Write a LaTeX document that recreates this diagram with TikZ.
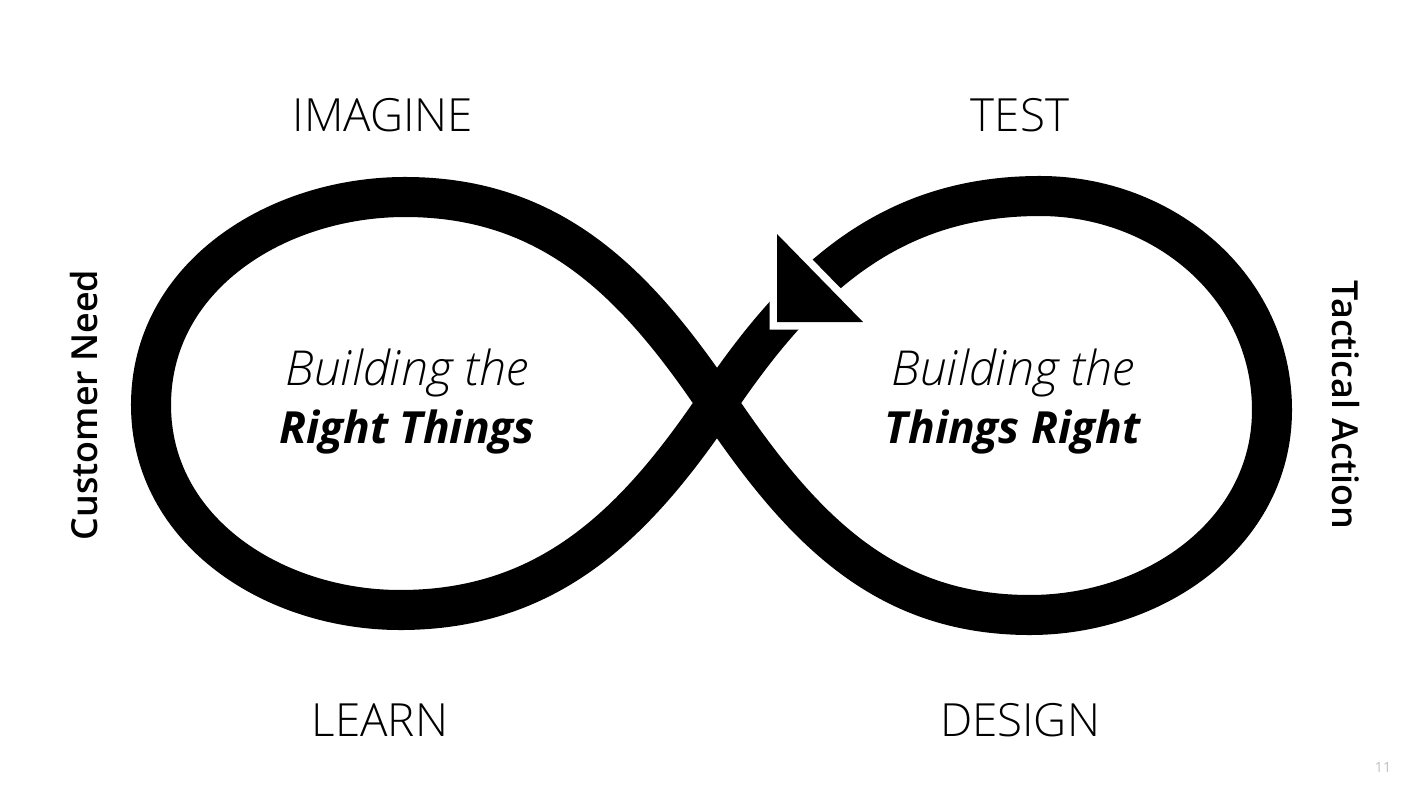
\documentclass[tikz,border=0pt]{standalone}
\usepackage{fontspec}
\setmainfont{Open Sans}
\newfontfamily\lightfont{Open Sans Light}
\newfontfamily\semifont{Open Sans Semibold}
\usetikzlibrary{positioning}

\begin{document}
\begin{tikzpicture}[
    x=0.01cm, y=0.01cm,
    phase/.style={
        font=\lightfont\fontsize{13}{15}\selectfont
    },
    side/.style={
        font=\semifont\fontsize{10.2}{12}\selectfont
    },
    lobe/.style={
        align=center,
        font=\fontsize{12.6}{16.5}\selectfont
    },
    loopline/.style={
        line width=0.4cm,
        line join=round
    }
]
\useasboundingbox (0,0) rectangle (1421,790);

% points of the loop
\coordinate (cross) at (717,387);
\coordinate (lefttop) at (405,593);
\coordinate (leftend) at (151,385);
\coordinate (leftbot) at (400,180);
\coordinate (righttop) at (1040,594);
\coordinate (rightend) at (1272,380);
\coordinate (rightbot) at (1030,175);

\draw[loopline] (cross)
    to[out=124, in=0] (lefttop)
    to[out=180, in=90] (leftend)
    to[out=270, in=180] (leftbot)
    to[out=0, in=236] (cross)
    to[out=56, in=180] (righttop)
    to[out=0, in=90] (rightend)
    to[out=270, in=0] (rightbot)
    to[out=180, in=304] (cross);

% arrowhead
\coordinate (tipa) at (777,556);
\coordinate (tipb) at (777,468);
\coordinate (tipc) at (863,468);
\filldraw[fill=black, draw=white, line width=0.15cm] (tipa) -- (tipb) -- (tipc) -- cycle;
\fill[black] (tipa) -- (tipb) -- (tipc) -- cycle;

% phases
\node[phase] (imagine) at (383,675) {IMAGINE};
\node[phase] (test) at (1020,675) {TEST};
\node[phase] (learn) at (380,70) {LEARN};
\node[phase] (design) at (1020,70) {DESIGN};

% sides
\node[side, rotate=90] (need) at (84,385) {Customer Need};
\node[side, rotate=-90] (action) at (1346,385) {Tactical Action};

% lobes
\node[lobe] (rightthings) at (407,388) {{\lightfont\itshape\fontsize{13.7}{16.5}\selectfont Building the}\\\textbf{\itshape Right Things}};
\node[lobe] (thingsright) at (1013,388) {{\lightfont\itshape\fontsize{13.7}{16.5}\selectfont Building the}\\\textbf{\itshape Things Right}};

\node[font=\fontsize{4}{5}\selectfont, text=black!25] (page) at (1383,23) {11};

\end{tikzpicture}
\end{document}
